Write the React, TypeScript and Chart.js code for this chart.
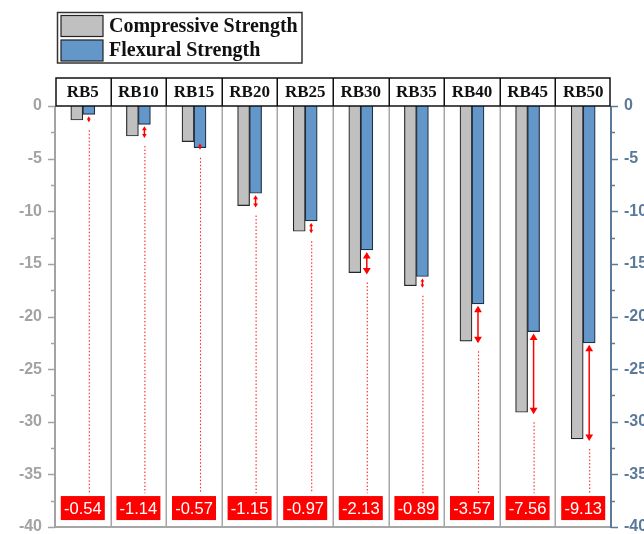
import React, { useEffect, useRef } from 'react';
import { Chart, registerables } from 'chart.js';

Chart.register(...registerables);

const categories = ['RB5', 'RB10', 'RB15', 'RB20', 'RB25', 'RB30', 'RB35', 'RB40', 'RB45', 'RB50'];
const compressive = [-1.33, -2.85, -3.38, -9.46, -11.9, -15.83, -17.07, -22.35, -29.1, -31.63];
const flexural = [-0.79, -1.74, -3.96, -8.29, -10.92, -13.68, -16.2, -18.8, -21.43, -22.5];
const diffLabels = ['-0.54', '-1.14', '-0.57', '-1.15', '-0.97', '-2.13', '-0.89', '-3.57', '-7.56', '-9.13'];
const seriesNames = ['Compressive Strength', 'Flexural Strength'];
const seriesColors = ['#c0c0c0', '#6497c9'];
const yMin = -40;
const yMax = 0;
const dottedEnd = -36.8;
const labelCenter = -38.2;

const LEFT_COLOR = '#a3a3a3';
const RIGHT_COLOR = '#5b7a9a';

function drawArrowHead(ctx: CanvasRenderingContext2D, x: number, y: number, dir: number, size: number) {
  ctx.beginPath();
  ctx.moveTo(x, y);
  ctx.lineTo(x - size * 0.6, y - dir * size);
  ctx.lineTo(x + size * 0.6, y - dir * size);
  ctx.closePath();
  ctx.fill();
}

const overlay = {
  id: 'overlay',
  beforeDatasetsDraw(chart: any) {
    const { ctx, chartArea: a, scales } = chart;
    const xs = scales.x;
    const n = categories.length;
    const w = (a.right - a.left) / n;
    ctx.save();
    ctx.strokeStyle = '#a6a6a6';
    ctx.lineWidth = 1.5;
    for (let i = 1; i < n; i++) {
      const px = Math.round(xs.getPixelForValue(i) - w / 2) + 0.25;
      ctx.beginPath();
      ctx.moveTo(px, a.top);
      ctx.lineTo(px, a.bottom);
      ctx.stroke();
    }
    ctx.lineWidth = 2;
    ctx.beginPath();
    ctx.moveTo(a.left, a.bottom);
    ctx.lineTo(a.right, a.bottom);
    ctx.stroke();
    ctx.restore();
  },
  afterDatasetsDraw(chart: any) {
    const { ctx, chartArea: a, scales } = chart;
    const xs = scales.x;
    const ys = scales.y;
    const n = categories.length;
    const w = (a.right - a.left) / n;
    ctx.save();

    // left axis
    ctx.strokeStyle = LEFT_COLOR;
    ctx.lineWidth = 2;
    ctx.beginPath();
    ctx.moveTo(a.left, a.top);
    ctx.lineTo(a.left, a.bottom + 1);
    ctx.stroke();
    // right axis
    ctx.strokeStyle = RIGHT_COLOR;
    ctx.beginPath();
    ctx.moveTo(a.right, a.top);
    ctx.lineTo(a.right, a.bottom + 1);
    ctx.stroke();
    ctx.lineWidth = 1.5;
    for (let v = yMax; v >= yMin - 0.001; v -= 2.5) {
      const py = Math.round(ys.getPixelForValue(v)) + 0.5;
      const major = Math.abs(v % 5) < 0.001;
      const len = major ? 7 : 4;
      ctx.strokeStyle = LEFT_COLOR;
      ctx.beginPath();
      ctx.moveTo(a.left - len, py);
      ctx.lineTo(a.left, py);
      ctx.stroke();
      ctx.strokeStyle = RIGHT_COLOR;
      ctx.beginPath();
      ctx.moveTo(a.right, py);
      ctx.lineTo(a.right + len, py);
      ctx.stroke();
    }

    // header row
    const hTop = 78;
    const hBot = a.top;
    ctx.fillStyle = '#ffffff';
    ctx.fillRect(a.left + 1, hTop, a.right - a.left - 1, hBot - hTop);
    ctx.strokeStyle = '#111111';
    ctx.lineWidth = 1.5;
    ctx.strokeRect(a.left + 1, hTop, a.right - a.left - 2, hBot - hTop);
    for (let i = 1; i < n; i++) {
      const px = Math.round(xs.getPixelForValue(i) - w / 2) + 0.25;
      ctx.beginPath();
      ctx.moveTo(px, hTop);
      ctx.lineTo(px, hBot);
      ctx.stroke();
    }
    ctx.fillStyle = '#111111';
    ctx.font = 'bold 17px "Liberation Serif", serif';
    ctx.textAlign = 'center';
    ctx.textBaseline = 'middle';
    categories.forEach((c, i) => {
      ctx.fillText(c, xs.getPixelForValue(i), (hTop + hBot) / 2 + 1);
    });

    // arrows, dotted lines, labels
    const half = 6;
    categories.forEach((c, i) => {
      const xc = xs.getPixelForValue(i);
      const ax = xc + half;
      const yb = ys.getPixelForValue(flexural[i]);
      const yg = ys.getPixelForValue(compressive[i]);
      const top = Math.min(yb, yg);
      const bot = Math.max(yb, yg);
      ctx.strokeStyle = '#ff0000';
      ctx.fillStyle = '#ff0000';
      ctx.lineWidth = 1.5;
      const y1 = top + 2;
      const len = Math.max(bot + 2 - y1, 6);
      const y2 = y1 + len;
      const hs = Math.min(6.5, Math.max(3, len / 3));
      ctx.beginPath();
      ctx.moveTo(ax, y1 + hs * 0.6);
      ctx.lineTo(ax, y2 - hs * 0.6);
      ctx.stroke();
      drawArrowHead(ctx, ax, y1, -1, hs);
      drawArrowHead(ctx, ax, y2, 1, hs);

      // dotted
      ctx.strokeStyle = 'rgba(255,0,0,0.85)';
      ctx.lineWidth = 1.1;
      ctx.setLineDash([1.5, 2]);
      ctx.beginPath();
      ctx.moveTo(ax + 0.5, y2 + 8);
      ctx.lineTo(ax + 0.5, ys.getPixelForValue(dottedEnd));
      ctx.stroke();
      ctx.setLineDash([]);

      // label
      const ly = ys.getPixelForValue(labelCenter);
      ctx.fillStyle = '#ff0000';
      ctx.fillRect(xc - 22, ly - 12, 44, 24);
      ctx.fillStyle = '#ffffff';
      ctx.font = '16.5px "Liberation Sans", Arial, sans-serif';
      ctx.textAlign = 'center';
      ctx.textBaseline = 'middle';
      ctx.fillText(diffLabels[i], xc, ly + 1);
    });

    // legend
    ctx.fillStyle = '#ffffff';
    ctx.fillRect(57, 12, 245, 51);
    ctx.strokeStyle = '#333333';
    ctx.lineWidth = 1.5;
    ctx.strokeRect(57.5, 12.5, 244.5, 50.5);
    seriesNames.forEach((name, k) => {
      const sy = 15.5 + k * 24.5;
      ctx.fillStyle = seriesColors[k];
      ctx.fillRect(61, sy, 42, 21);
      ctx.strokeStyle = '#222222';
      ctx.lineWidth = 1.2;
      ctx.strokeRect(61, sy, 42, 21);
      ctx.fillStyle = '#111111';
      ctx.font = 'bold 20px "Liberation Serif", serif';
      ctx.textAlign = 'left';
      ctx.textBaseline = 'middle';
      ctx.fillText(name, 109, sy + 11);
    });

    ctx.restore();
  },
};

export default function App() {
  const ref = useRef<HTMLCanvasElement>(null);
  useEffect(() => {
    document.body.style.margin = '0';
    const canvas = ref.current!;
    const fit = (scale: any, width: number) => {
      scale.width = width;
      scale.paddingTop = 0;
      scale.paddingBottom = 0;
    };
    const chart = new Chart(canvas, {
      type: 'bar',
      data: {
        labels: categories,
        datasets: [
          {
            label: seriesNames[0],
            data: compressive,
            backgroundColor: seriesColors[0],
            borderColor: '#262626',
            borderWidth: 1.2,
            barThickness: 12,
          },
          {
            label: seriesNames[1],
            data: flexural,
            backgroundColor: seriesColors[1],
            borderColor: '#1f2f44',
            borderWidth: 1.2,
            barThickness: 12,
          },
        ],
      },
      options: {
        animation: false,
        responsive: false,
        maintainAspectRatio: false,
        layout: { padding: { top: 106, bottom: 7, left: 0, right: 0 } },
        plugins: { legend: { display: false }, tooltip: { enabled: false }, title: { display: false } },
        scales: {
          x: { type: 'category', display: false, offset: true, grid: { display: false } },
          y: {
            position: 'left',
            min: yMin,
            max: yMax,
            grid: { display: false, drawTicks: false },
            border: { display: false },
            ticks: {
              stepSize: 2.5,
              padding: 13,
              color: LEFT_COLOR,
              font: { family: '"Liberation Sans", Arial, sans-serif', size: 16, weight: 'bold' },
              callback: (v: any) => (Math.abs(Number(v) % 5) < 0.001 ? String(v) : ''),
            },
            afterFit: (s: any) => fit(s, 55),
          },
          y2: {
            position: 'right',
            min: yMin,
            max: yMax,
            grid: { display: false, drawTicks: false },
            border: { display: false },
            ticks: {
              stepSize: 2.5,
              padding: 13,
              color: RIGHT_COLOR,
              font: { family: '"Liberation Sans", Arial, sans-serif', size: 16, weight: 'bold' },
              callback: (v: any) => (Math.abs(Number(v) % 5) < 0.001 ? String(v) : ''),
            },
            afterFit: (s: any) => fit(s, 33),
          },
        },
      } as any,
      plugins: [overlay],
    });
    return () => chart.destroy();
  }, []);
  return (
    <div style={{ width: 644, height: 534, overflow: 'hidden', background: '#fff' }}>
      <canvas ref={ref} width={644} height={534} style={{ display: 'block' }} />
    </div>
  );
}
